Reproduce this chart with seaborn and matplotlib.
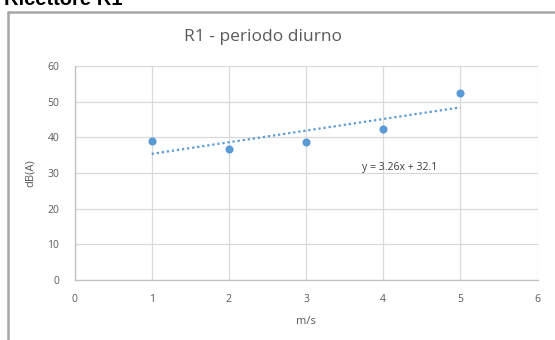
import matplotlib
matplotlib.use("Agg")
import matplotlib.pyplot as plt
from matplotlib.lines import Line2D
import numpy as np
import pandas as pd
import seaborn as sns

# Wind speed (m/s) vs measured level dB(A)
wind_speed = [1, 2, 3, 4, 5]
level_dba = [39.0, 36.8, 38.7, 42.4, 52.5]

# Linear trendline as shown in the equation label
slope = 3.26
intercept = 32.1

x_ticks = [0, 1, 2, 3, 4, 5, 6]
y_ticks = [0, 10, 20, 30, 40, 50, 60]

title = "R1 - periodo diurno"
x_label = "m/s"
y_label = "dB(A)"
header = "Ricettore R1"

sns.set_theme(style="white")
plt.rcParams["font.family"] = ["Open Sans", "DejaVu Sans"]

blue = "#5B9BD5"
grid_c = "#D9D9D9"
text_c = "#595959"

fig = plt.figure(figsize=(5.55, 3.4), dpi=100)
ax = fig.add_axes([74.5 / 555, 1 - 280 / 340, 463 / 555, 214 / 340])

df = pd.DataFrame({"speed": wind_speed, "level": level_dba})
trend = pd.DataFrame({"speed": [wind_speed[0], wind_speed[-1]]})
trend["level"] = slope * trend["speed"] + intercept

sns.lineplot(data=trend, x="speed", y="level", ax=ax, color=blue,
             linestyle=(0, (1, 1.3)), linewidth=1.6, zorder=3)
sns.scatterplot(data=df, x="speed", y="level", ax=ax, color=blue,
                s=34, edgecolor=blue, linewidth=0, zorder=4)

ax.set_xlim(0, 6)
ax.set_ylim(0, 60)
ax.set_xticks(x_ticks)
ax.set_yticks(y_ticks)
ax.grid(True, color=grid_c, linewidth=0.9)
ax.set_axisbelow(True)
for side in ["top", "right"]:
    ax.spines[side].set_visible(False)
for side in ["left", "bottom"]:
    ax.spines[side].set_color("#BFBFBF")
    ax.spines[side].set_linewidth(0.9)
ax.tick_params(axis="both", length=0, labelsize=7.5, labelcolor=text_c)
ax.tick_params(axis="x", pad=10)
ax.tick_params(axis="y", pad=11)
ax.set_xlabel(x_label, fontsize=8, color=text_c, labelpad=8)
ax.set_ylabel(y_label, fontsize=8, color=text_c, labelpad=8)

ax.text(3.72, 31.6, f"y = {slope:.2f}x + {intercept:.1f}", fontsize=7.6,
        color="#404040", va="center", ha="left")

fig.text(263 / 555, 1 - 37 / 340, title, fontsize=12.5, color=text_c,
         ha="center", va="center")

# outer frame and heading along the top edge
border = "#A6A6A6"
fig.add_artist(Line2D([7.5 / 555, 1.0], [1 - 11.5 / 340] * 2,
                      transform=fig.transFigure, color=border, linewidth=1.8))
fig.add_artist(Line2D([7.5 / 555] * 2, [0, 1 - 11.5 / 340],
                      transform=fig.transFigure, color=border, linewidth=1.8))
fig.text(4 / 555, 1 - 5 / 340, header, fontsize=14.5, fontweight="bold",
         color="black", family=["Liberation Sans", "DejaVu Sans"],
         ha="left", va="baseline")

fig.savefig("out.png", dpi=100, facecolor="white")
